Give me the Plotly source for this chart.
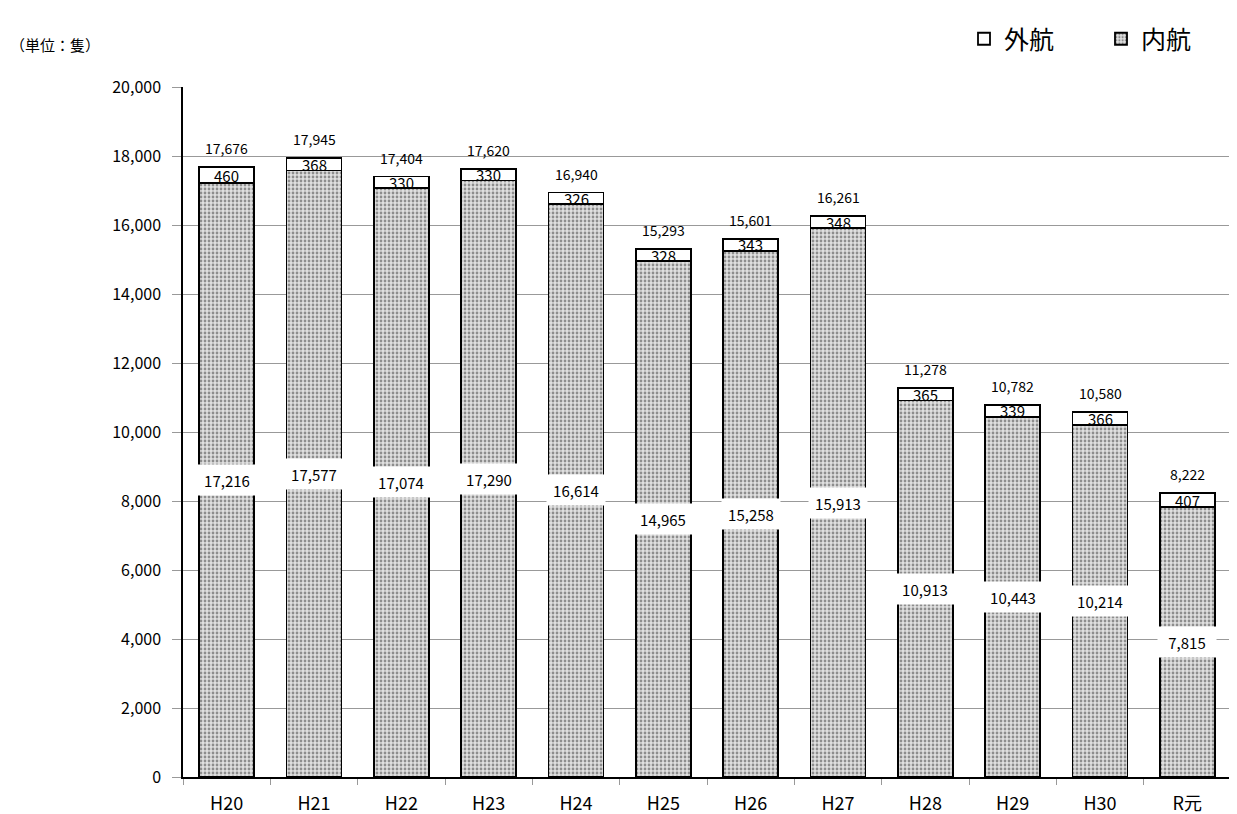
import plotly.graph_objects as go

categories = ["H20", "H21", "H22", "H23", "H24", "H25", "H26", "H27", "H28", "H29", "H30", "R元"]
naikou = [17216, 17577, 17074, 17290, 16614, 14965, 15258, 15913, 10913, 10443, 10214, 7815]
gaikou = [460, 368, 330, 330, 326, 328, 343, 348, 365, 339, 366, 407]
totals = [17676, 17945, 17404, 17620, 16940, 15293, 15601, 16261, 11278, 10782, 10580, 8222]

FONT = "Noto Sans CJK JP, Noto Sans, sans-serif"

W, H = 1229, 806
ML, MR, MT, MB = 175, 6, 79, 37
PW, PH = W - ML - MR, H - MT - MB

fig = go.Figure()
fig.add_trace(go.Bar(
    x=categories, y=naikou, name="内航",
    marker=dict(color="#e0e0e0", line=dict(color="black", width=1.8),
                pattern=dict(shape=".", fgcolor="#3a3a3a", bgcolor="#e0e0e0", size=4, solidity=0.38)),
    hoverinfo="skip",
))
fig.add_trace(go.Bar(
    x=categories, y=gaikou, name="外航",
    marker=dict(color="white", line=dict(color="black", width=1.8)),
    hoverinfo="skip",
))

annotations = []
for c, n, g, t in zip(categories, naikou, gaikou, totals):
    annotations.append(dict(x=c, y=n / 2, text=f"{n:,}", showarrow=False,
                            font=dict(family=FONT, size=15, color="black"),
                            bgcolor="white", width=56, height=28, xref="x", yref="y"))
    annotations.append(dict(x=c, y=n + g / 2, text=f"{g:,}", showarrow=False,
                            font=dict(family=FONT, size=15, color="black"),
                            xref="x", yref="y"))
    annotations.append(dict(x=c, y=t, text=f"{t:,}", showarrow=False, yshift=19,
                            font=dict(family=FONT, size=14, color="black"),
                            xref="x", yref="y"))
# unit label at the top-left of the figure
annotations.append(dict(x=(0 - ML) / PW, y=(H - MB - 37) / PH, xref="paper", yref="paper",
                        text="（単位：隻）", showarrow=False, xanchor="left", yanchor="middle",
                        font=dict(family=FONT, size=15, color="black")))

fig.update_layout(
    width=W, height=H,
    margin=dict(l=ML, r=MR, t=MT, b=MB, autoexpand=False),
    barmode="stack", bargap=0.37,
    plot_bgcolor="white", paper_bgcolor="white",
    font=dict(family=FONT, color="black"),
    showlegend=True,
    legend=dict(orientation="h", traceorder="reversed",
                x=(956 - ML) / PW, xanchor="left",
                y=(H - MB - 8) / PH, yanchor="top",
                font=dict(family=FONT, size=25, color="black"),
                itemwidth=30, entrywidth=92, bgcolor="rgba(0,0,0,0)"),
    xaxis=dict(showline=True, linecolor="black", linewidth=1.5,
               ticks="outside", tickson="boundaries", ticklen=6, tickcolor="#999",
               ticklabelstandoff=10, automargin=False,
               tickfont=dict(family=FONT, size=18, color="black")),
    yaxis=dict(range=[0, 20000], dtick=2000, tickformat=",",
               showline=True, linecolor="black", linewidth=1.5,
               showgrid=True, gridcolor="#999", gridwidth=1,
               ticks="outside", ticklen=9, tickcolor="#999",
               ticklabelstandoff=8, automargin=False,
               tickfont=dict(family=FONT, size=16, color="black"),
               zeroline=False),
    annotations=annotations,
)

fig.write_html("out.html")
